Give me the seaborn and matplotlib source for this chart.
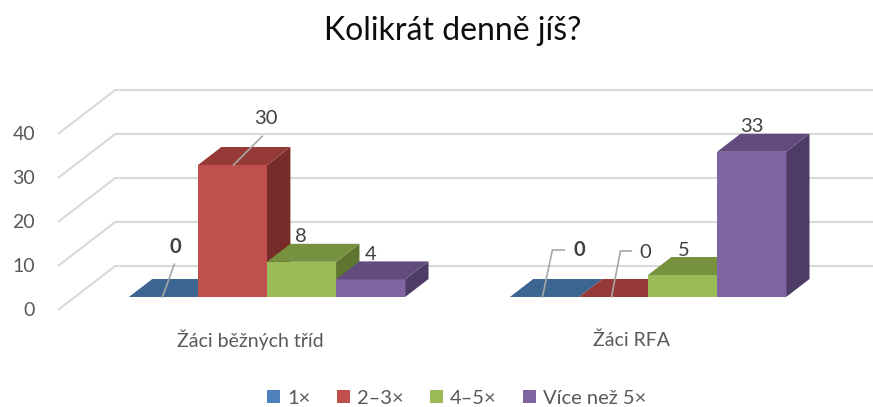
import pandas as pd
import numpy as np
import seaborn as sns
import matplotlib.pyplot as plt
from matplotlib.patches import Polygon, Patch

# data
groups = ['Žáci běžných tříd', 'Žáci RFA']
freqs = ['1×', '2–3×', '4–5×', 'Více než 5×']
counts_bezne = [0, 30, 8, 4]
counts_rfa = [0, 0, 5, 33]
yticks = [0, 10, 20, 30, 40]

front_cols = ['#4f81bd', '#c0504d', '#9bbb59', '#8064a2']
top_cols = ['#3c6591', '#963a38', '#77923f', '#624b7d']
side_cols = ['#2f4f73', '#772c2a', '#5f7630', '#4f3c66']

df = pd.DataFrame({
    'group': np.repeat(groups, len(freqs)),
    'freq': freqs * len(groups),
    'count': counts_bezne + counts_rfa,
})

sns.set_theme(style='white')
plt.rcParams['font.family'] = ['Lato', 'DejaVu Sans']
txt = '#595959'

fig = plt.figure(figsize=(8.73, 4.07), dpi=100)
ax = fig.add_axes([0, 0, 1, 1])

sns.barplot(data=df, x='group', y='count', hue='freq', hue_order=freqs,
            palette=front_cols, saturation=1, width=0.725, legend=False,
            edgecolor='none', linewidth=0, ax=ax)

# pixel -> data scale (figure is 873 x 407 px, axes fills it)
PX_X = 381.0   # px per category unit
PX_Y = 4.4     # px per value unit
ax.set_xlim(-267 / PX_X, (873 - 267) / PX_X)
ax.set_ylim(-(407 - 297) / PX_Y, 297 / PX_Y)
ax.set_axis_off()

SLANT = 1.3
BAR_FRONT, BAR_BACK, WALL = 13, 31, 44   # depth in px


def proj(x, y, depth):
    # oblique projection relative to the bar front plane
    d = depth - BAR_FRONT
    return x + SLANT * d / PX_X, y + d / PX_Y


# back wall gridlines + floor diagonals
x_left = -209 / PX_X + SLANT * BAR_FRONT / PX_X
for v in yticks:
    x0, y0 = proj(x_left, v, 0)
    x1, y1 = proj(x_left, v, WALL)
    ax.plot([x0, x1, 5], [y0, y1, y1], color='#d9d9d9', lw=1.5, zorder=1,
            solid_capstyle='butt')
    ax.annotate(str(v), (x0, y0), xytext=(-23, 0), textcoords='offset pixels',
                ha='right', va='center', fontsize=14, color=txt)

# 3d faces for each bar
ddx = SLANT * (BAR_BACK - BAR_FRONT) / PX_X
ddy = (BAR_BACK - BAR_FRONT) / PX_Y
bars = []
for i, cont in enumerate(ax.containers):
    for bar in cont:
        bars.append((bar.get_x(), i, bar))
bars.sort(key=lambda b: b[0])
for k, (_, i, bar) in enumerate(bars):
    z = 3 + k * 0.1
    x0 = bar.get_x()
    x1 = x0 + bar.get_width()
    h = bar.get_height()
    bar.set_zorder(z)
    side = Polygon([(x1, 0), (x1, h), (x1 + ddx, h + ddy), (x1 + ddx, ddy)],
                   closed=True, fc=side_cols[i], ec='none', zorder=z)
    top = Polygon([(x0, h), (x1, h), (x1 + ddx, h + ddy), (x0 + ddx, h + ddy)],
                  closed=True, fc=top_cols[i], ec='none', zorder=z)
    ax.add_patch(side)
    ax.add_patch(top)

# data labels: offsets in px from bar front top center, with leader lines
label_off = {
    (0, 0): (12, 50), (0, 1): (33, 47), (0, 2): (-1, 25), (0, 3): (0, 25),
    (1, 0): (35, 47), (1, 1): (32, 45), (1, 2): (1, 25), (1, 3): (0, 25),
}
leaders = {
    (0, 0): [(-1, 0), (11, 33)],
    (0, 1): [(1, 0), (30, 29)],
    (1, 0): [(-2, 0), (8, 47), (20, 47)],
    (1, 1): [(-2, 0), (7, 46), (18, 46)],
}
to_disp = ax.transData
inv = ax.transData.inverted()
for i, cont in enumerate(ax.containers):
    for g, bar in enumerate(cont):
        cx = bar.get_x() + bar.get_width() / 2
        h = bar.get_height()
        ox, oy = label_off[(g, i)]
        ax.annotate(f'{int(h)}', (cx, h), xytext=(ox, oy),
                    textcoords='offset pixels', ha='center', va='center',
                    fontsize=14.5, color='#404040', zorder=10,
                    fontweight='bold' if i == 0 else 'normal')
        if (g, i) in leaders:
            bx, by = to_disp.transform((cx, h))
            pts = [inv.transform((bx + px, by + py)) for px, py in leaders[(g, i)]]
            ax.plot([p[0] for p in pts], [p[1] for p in pts], color='#a6a6a6',
                    lw=1.2, zorder=9)

# category labels at the front floor
for g, name in enumerate(groups):
    x0, y0 = proj(g, 0, 0)
    ax.annotate(name, (x0, y0), xytext=(0, -30), textcoords='offset pixels',
                ha='center', va='center', fontsize=14, color=txt)

fig.text(0.519, 1 - 31 / 407, 'Kolikrát denně jíš?', ha='center', va='center',
         fontsize=23, color='#0d0d0d')

handles = [Patch(fc=c, ec='none') for c in front_cols]
fig.legend(handles, freqs, loc='center', bbox_to_anchor=(0.523, 9 / 407),
           ncol=4, frameon=False, fontsize=14.5, handlelength=0.65,
           handleheight=0.65, handletextpad=0.35, columnspacing=1.3,
           labelcolor=txt)

fig.savefig('out.png', dpi=100)
